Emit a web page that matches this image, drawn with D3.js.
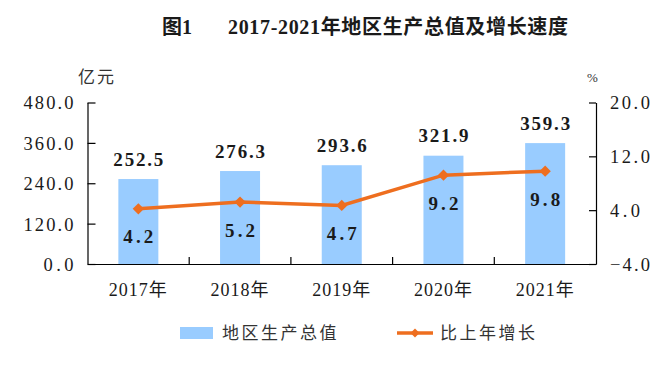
<!DOCTYPE html>
<html>
  <head>
    <meta charset="utf-8">
    <title>2017-2021年地区生产总值及增长速度</title>
    <script src="https://cdn.jsdelivr.net/npm/d3@7"></script>
    <style>
      html, body { margin: 0; padding: 0; background: #fff; }
      svg text { font-family: "Liberation Serif", "Noto Sans CJK SC", serif; fill: #1a1a1a; }
    </style>
  </head>
  <body>
    <div id="chart"></div>
    <script>
      // data
      var years = ["2017年", "2018年", "2019年", "2020年", "2021年"];
      var gdp = [252.5, 276.3, 293.6, 321.9, 359.3];
      var growth = [4.2, 5.2, 4.7, 9.2, 9.8];
      var leftTicks = [0, 120, 240, 360, 480];
      var rightTicks = [-4, 4, 12, 20];

      var w = 662, h = 370;
      var plotLeft = 87.5, plotRight = 596, plotTop = 102.5, plotBottom = 264;

      var svg = d3.select("#chart").append("svg")
        .attr("width", w)
        .attr("height", h);

      var x = d3.scaleBand().domain(years).range([plotLeft, plotRight]);
      var yL = d3.scaleLinear().domain([0, 480]).range([plotBottom, plotTop]);
      var yR = d3.scaleLinear().domain([-4, 20]).range([plotBottom, plotTop]);
      var barW = 40;
      var cx = function(i) { return x(years[i]) + x.bandwidth() / 2; };

      // title
      svg.append("text").attr("x", 162).attr("y", 34)
        .style("font-size", "20px").style("font-weight", "bold")
        .text("图1");
      svg.append("text").attr("x", 228).attr("y", 34)
        .attr("textLength", 340).attr("lengthAdjust", "spacing")
        .style("font-size", "20px").style("font-weight", "bold")
        .text("2017-2021年地区生产总值及增长速度");

      // units
      svg.append("text").attr("x", 78).attr("y", 83)
        .style("font-size", "17px").style("letter-spacing", "2px").style("fill", "#333")
        .text("亿元");
      svg.append("text").attr("x", 587).attr("y", 82)
        .style("font-size", "13px").style("fill", "#333")
        .text("%");

      // bars
      svg.selectAll("rect.bar").data(gdp).enter().append("rect")
        .attr("class", "bar")
        .attr("x", function(d, i) { return cx(i) - barW / 2; })
        .attr("y", function(d) { return yL(d); })
        .attr("width", barW)
        .attr("height", function(d) { return plotBottom - yL(d); })
        .attr("fill", "#99CCFF");

      // axes
      var gl = svg.append("g").attr("transform", "translate(" + plotLeft + ",0)")
        .call(d3.axisLeft(yL).tickValues(leftTicks).tickSizeInner(-8).tickSizeOuter(0)
          .tickPadding(14).tickFormat(d3.format(".1f")));
      var gr = svg.append("g").attr("transform", "translate(" + plotRight + ",0)")
        .call(d3.axisRight(yR).tickValues(rightTicks).tickSizeInner(-7).tickSizeOuter(0)
          .tickPadding(14).tickFormat(d3.format(".1f")));
      [gl, gr].forEach(function(g) {
        g.select(".domain").attr("stroke", "#000").attr("stroke-width", 1.2);
        g.selectAll(".tick line").attr("stroke", "#000").attr("stroke-width", 1.2);
        g.selectAll(".tick text")
          .attr("font-family", null).attr("font-size", null)
          .style("font-size", "18.5px")
          .attr("dy", "0.35em")
          .attr("textLength", function(d) { return d3.format(".1f")(d).length * 10; })
          .attr("lengthAdjust", "spacing");
      });

      var gb = svg.append("g").attr("transform", "translate(0," + plotBottom + ")")
        .call(d3.axisBottom(x).tickSize(0).tickPadding(19));
      gb.select(".domain").attr("stroke", "#000").attr("stroke-width", 1.2);
      gb.selectAll(".tick text")
        .attr("font-family", null).attr("font-size", null)
        .style("font-size", "18px").style("letter-spacing", "1px");
      gb.selectAll("line.sep").data(years.slice(1)).enter().append("line")
        .attr("class", "sep")
        .attr("x1", function(d) { return x(d); })
        .attr("x2", function(d) { return x(d); })
        .attr("y1", 0).attr("y2", -7)
        .attr("stroke", "#000").attr("stroke-width", 1.2);

      // line + markers
      var line = d3.line()
        .x(function(d, i) { return cx(i); })
        .y(function(d) { return yR(d); });
      svg.append("path").datum(growth)
        .attr("d", line)
        .attr("fill", "none")
        .attr("stroke", "#EE6E1F")
        .attr("stroke-width", 3.5);
      svg.selectAll("path.mark").data(growth).enter().append("path")
        .attr("class", "mark")
        .attr("d", d3.symbol(d3.symbolSquare).size(64))
        .attr("transform", function(d, i) { return "translate(" + cx(i) + "," + yR(d) + ") rotate(45)"; })
        .attr("fill", "#EE6E1F");

      // value labels
      svg.selectAll("text.bv").data(gdp).enter().append("text")
        .attr("class", "bv")
        .attr("x", function(d, i) { return cx(i); })
        .attr("y", function(d) { return yL(d) - 20; })
        .attr("dy", "0.35em")
        .attr("text-anchor", "middle")
        .attr("textLength", 50).attr("lengthAdjust", "spacing")
        .style("font-size", "19px").style("font-weight", "bold")
        .text(function(d) { return d.toFixed(1); });
      svg.selectAll("text.lv").data(growth).enter().append("text")
        .attr("class", "lv")
        .attr("x", function(d, i) { return cx(i); })
        .attr("y", function(d) { return yR(d) + 28; })
        .attr("dy", "0.35em")
        .attr("text-anchor", "middle")
        .attr("textLength", 30).attr("lengthAdjust", "spacing")
        .style("font-size", "19px").style("font-weight", "bold")
        .text(function(d) { return d.toFixed(1); });

      // legend
      var lg = svg.append("g");
      lg.append("rect").attr("x", 180).attr("y", 327).attr("width", 33).attr("height", 12).attr("fill", "#99CCFF");
      lg.append("text").attr("x", 222).attr("y", 333).attr("dy", "0.35em")
        .style("font-size", "17px").style("letter-spacing", "2.5px").style("fill", "#333")
        .text("地区生产总值");
      lg.append("line").attr("x1", 397).attr("x2", 433).attr("y1", 333).attr("y2", 333)
        .attr("stroke", "#EE6E1F").attr("stroke-width", 3.5);
      lg.append("path").attr("d", d3.symbol(d3.symbolSquare).size(40))
        .attr("transform", "translate(415,333) rotate(45)").attr("fill", "#EE6E1F");
      lg.append("text").attr("x", 440).attr("y", 333).attr("dy", "0.35em")
        .style("font-size", "17px").style("letter-spacing", "2.5px").style("fill", "#333")
        .text("比上年增长");
    </script>
  </body>
</html>
